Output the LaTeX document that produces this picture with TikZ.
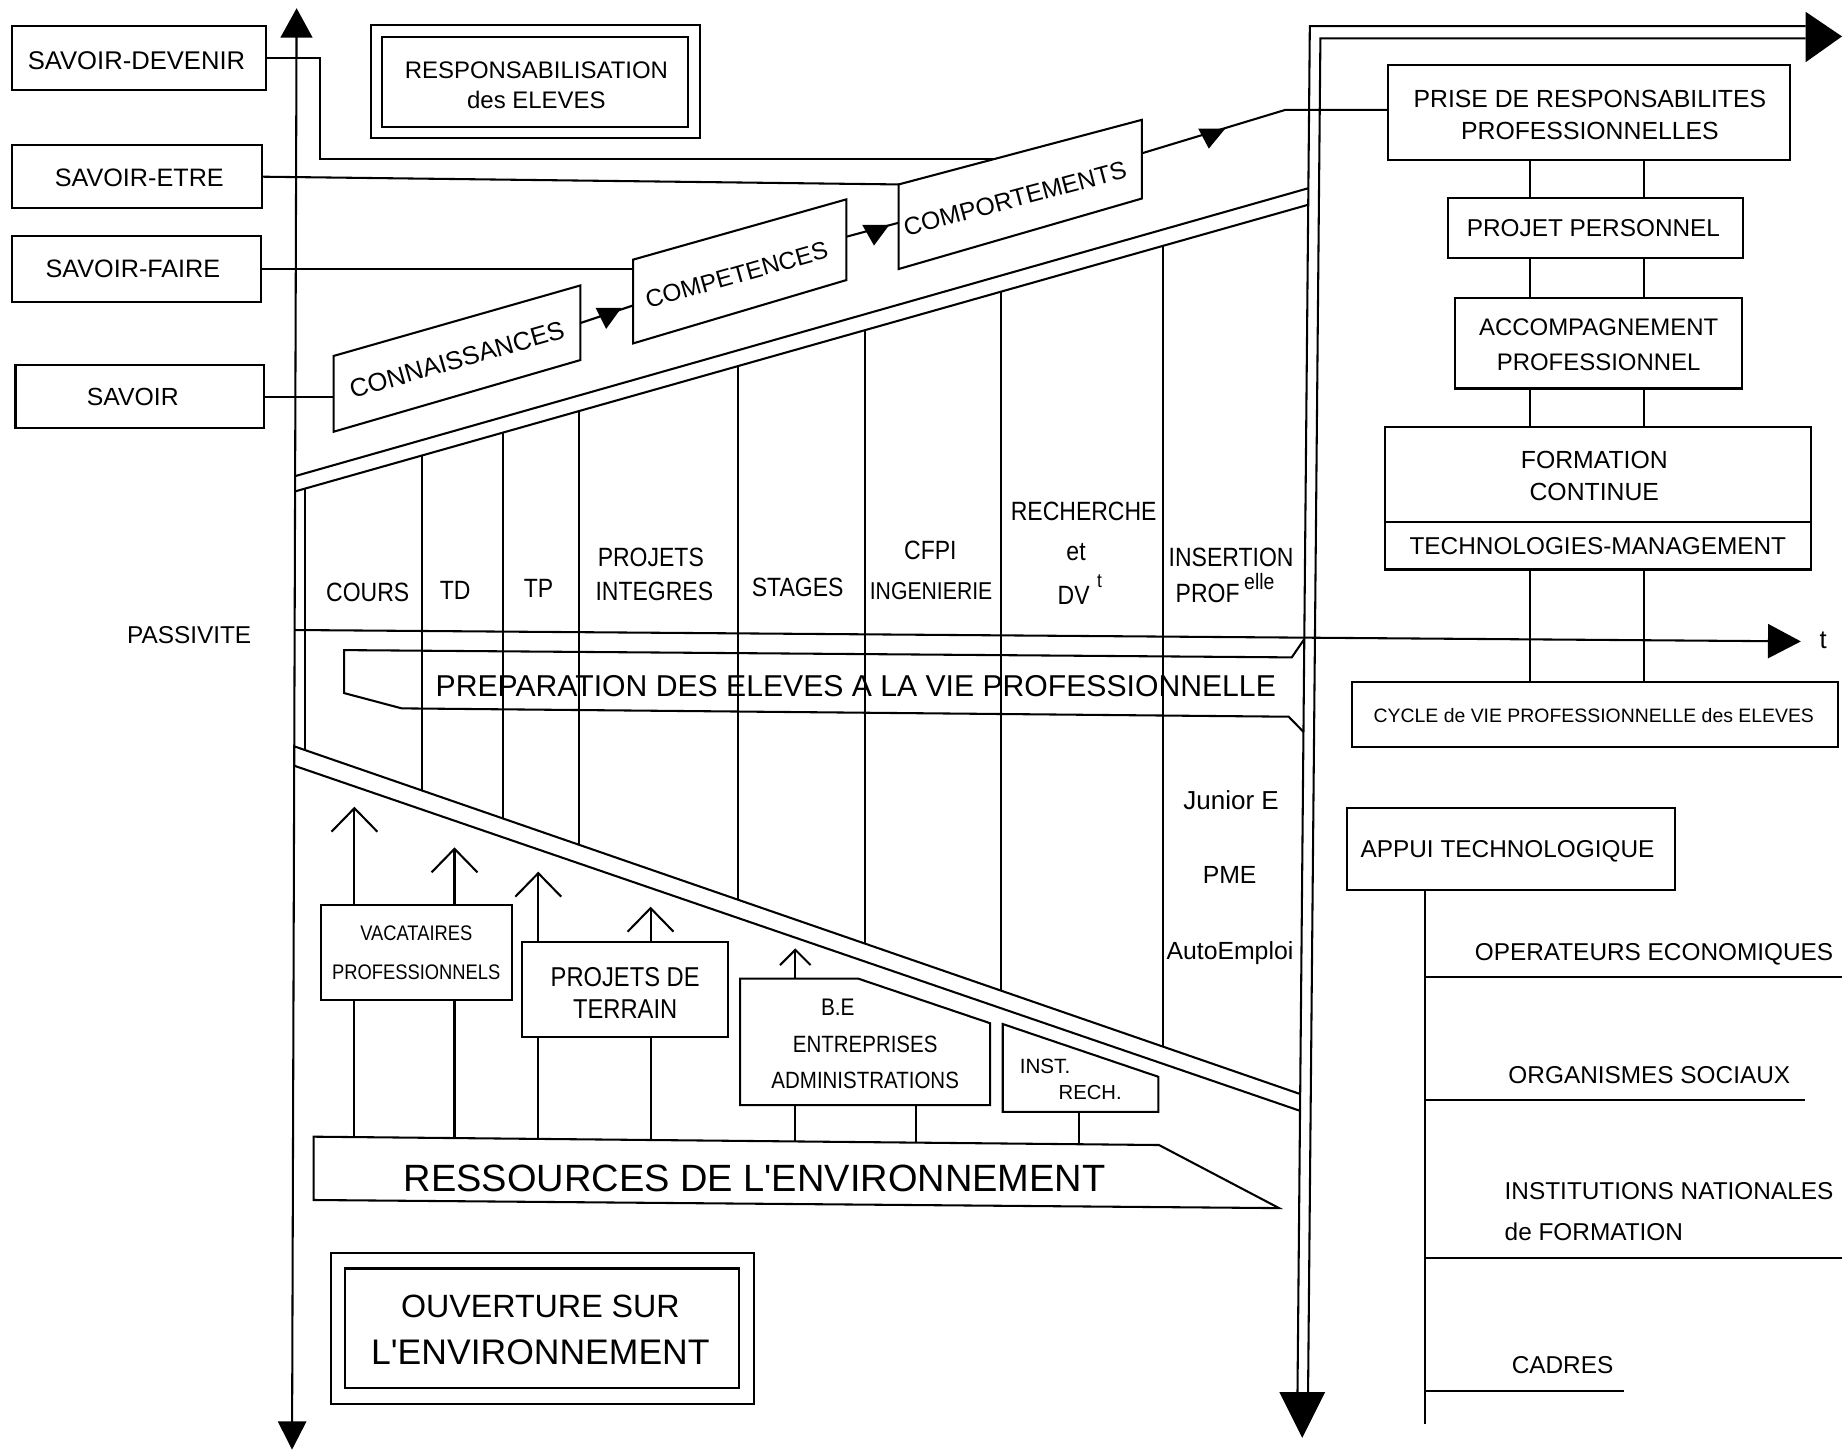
\documentclass[tikz,border=0pt]{standalone}
\usepackage{fontspec}
\setmainfont{Liberation Sans}[Ligatures=TeXOff]
\newfontfamily\narrowfont{Liberation Sans}[FakeStretch=0.87,Ligatures=TeXOff]
\usetikzlibrary{fit,arrows.meta,calc}
\newcommand\fsz[2]{\fontsize{#1}{#2}\selectfont}
\begin{document}
\begin{tikzpicture}[x=0.01cm,y=-0.01cm,line width=0.5pt,line join=miter,
  bx/.style={draw,inner sep=0pt,outer sep=0pt,fill=white},
  frame/.style={draw,inner sep=0pt,outer sep=0pt},
  txt/.style={inner sep=0pt,text depth=0pt,align=center},
  colt/.style={txt,font=\narrowfont\fsz{6.4}{7}},
  rtxt/.style={txt,font=\fsz{5.9}{7}},
  upbarb/.style={-{Straight Barb[length=2mm,width=3.9mm]}},
  upbarbs/.style={-{Straight Barb[length=1.3mm,width=2.6mm]}}]
\useasboundingbox (0,0) rectangle (1568,1236);

% ---------- slanted bands and columns ----------
\draw (251.2,405.3) -- (1113.8,160.2);
\draw (251.2,418.3) -- (1113.6,174.3);
\draw (251,635.5) -- (1106.8,931.3);
\draw (251,652) -- (1106.7,945.6);
\draw (260,415.8) -- (260,638.6);
\foreach \cx in {359,428,493,628,736,852,990}{
  \draw (\cx,{418.3-0.2829*(\cx-251.2)}) -- (\cx,{635.5+0.3458*(\cx-251)});
}

% ---------- preparation banner ----------
\draw (1110.3,544) -- (1099.6,559.6) -- (293,553.4) -- (293,590) -- (342,603) -- (1097,610.1) -- (1109.6,623);
\node[txt,font=\fsz{7.3}{8}] (prep) at (728.5,584) {PREPARATION DES ELEVES A LA VIE PROFESSIONNELLE};

% ---------- column labels ----------
\node[colt] (lcours) at (313,504) {COURS};
\node[colt] (ltd) at (387.5,503) {TD};
\node[colt] (ltp) at (458.5,501) {TP};
\node[colt] (lproj1) at (554,474.4) {PROJETS};
\node[colt] (lproj2) at (557,503) {INTEGRES};
\node[colt] (lstag) at (679,500) {STAGES};
\node[colt] (lcfpi) at (792,468) {CFPI};
\node[colt,font=\narrowfont\fsz{5.9}{7}] (ling) at (792.6,503) {INGENIERIE};
\node[colt] (lrech) at (922.5,435.6) {RECHERCHE};
\node[colt] (let) at (916,469.6) {et};
\node[colt] (ldv) at (914,506.5) {DV};
\node[colt,font=\narrowfont\fsz{4.8}{5}] (ldvt) at (936,495) {t};
\node[colt] (lins) at (1048,474) {INSERTION};
\node[colt] (lprof) at (1028,505) {PROF};
\node[colt,font=\narrowfont\fsz{5.4}{6}] (lelle) at (1072,495) {elle};
\node[txt,font=\fsz{6.3}{7}] (jun) at (1048,681) {Junior E};
\node[txt,font=\fsz{6}{7}] (pme) at (1046.7,744.9) {PME};
\node[txt,font=\fsz{6}{7}] (auto) at (1047,808.9) {AutoEmploi};

% ---------- passivite axis ----------
\coordinate (pasL) at (251,536.3);
\coordinate (pasR) at (1533,546);
\node[txt,font=\fsz{5.9}{7}] (pass) at (161,540.5) {PASSIVITE};
\node[txt,font=\fsz{6.2}{7}] (tlab) at (1552,545) {t};

% ---------- resources: up arrows ----------
\coordinate (rsmid) at (640,1000);
\coordinate (u1) at (301.7,686.7);
\coordinate (u2) at (386.9,721.3);
\coordinate (u3) at (458.2,742);
\coordinate (u4) at (553.8,771.8);
\coordinate (u5) at (677,807.3);
\coordinate (b2) at (779.4,905);
\coordinate (b3) at (918.5,930);
\draw[upbarb] (u1 |- rsmid) -- (u1);
\draw[upbarb] (u2 |- rsmid) -- (u2);
\draw[upbarb] (u3 |- rsmid) -- (u3);
\draw[upbarb] (u4 |- rsmid) -- (u4);
\draw[upbarbs] (u5 |- rsmid) -- (u5);
\draw (b2 |- rsmid) -- (b2);
\draw (b3 |- rsmid) -- (b3);

\node[bx,fit={(272.9,770.4) (435.8,851.3)}] (vac) {};
\node[txt,font=\narrowfont\fsz{5.1}{9.3}] (vacT) at (vac.center) {VACATAIRES\\PROFESSIONNELS};
\node[bx,fit={(444.4,801.6) (620,882.5)}] (pdt) {};
\node[txt,font=\narrowfont\fsz{6.6}{7.7}] (pdtT) at ($(pdt.center)+(0,3)$) {PROJETS DE\\TERRAIN};
\coordinate (beTL) at (630,833);
\coordinate (beTM) at (730.4,833);
\coordinate (beTR) at (842.8,871);
\coordinate (beBR) at (842.8,940.7);
\coordinate (beBL) at (630,940.7);
\filldraw[fill=white] (beTL) -- (beTM) -- (beTR) -- (beBR) -- (beBL) -- cycle;
\node[txt,font=\narrowfont\fsz{5.8}{7}] (be1) at (713.2,857) {B.E};
\node[txt,font=\narrowfont\fsz{5.7}{8.8}] (be2) at (736.5,904) {ENTREPRISES\\ADMINISTRATIONS};
\coordinate (inTL) at (853.6,871.7);
\coordinate (inTR) at (986,916.6);
\coordinate (inBR) at (986,946.4);
\coordinate (inBL) at (853.6,946.4);
\filldraw[fill=white] (inTL) -- (inTR) -- (inBR) -- (inBL) -- cycle;
\node[txt,font=\fsz{5}{6}] (in1) at (889.6,907.3) {INST.};
\node[txt,font=\fsz{4.9}{6}] (in2) at (928,930) {RECH.};

\coordinate (rsTL) at (267,967.6);
\coordinate (rsTR) at (986.6,974.7);
\coordinate (rsTip) at (1088.8,1028.4);
\coordinate (rsBL) at (267,1021.5);
\filldraw[fill=white] (rsTL) -- (rsTR) -- (rsTip) -- (rsBL) -- cycle;
\node[txt,font=\fsz{9.2}{10}] (res) at (642.4,1003) {RESSOURCES DE L'ENVIRONNEMENT};

% ---------- ouverture ----------
\node[frame,fit={(281.5,1066.4) (641.8,1195.2)}] (ouvo) {};
\node[frame,fit={(293.5,1079.8) (629.2,1181.9)}] (ouv) {};
\node[txt,font=\fsz{7.8}{11}] (ouv1) at (460,1111.8) {OUVERTURE SUR};
\node[txt,font=\fsz{8.6}{11}] (ouv2) at (460,1150.7) {L'ENVIRONNEMENT};

% ---------- main axes ----------
\coordinate (axT) at (252.5,7);
\coordinate (axB) at (248.6,1234);
\draw[{Triangle[length=2.5mm,width=2.7mm]}-{Triangle[length=2.4mm,width=2.4mm]}] (axT) -- (axB);
\draw[-{Triangle[length=2.8mm,width=2.9mm]}] (pasL) -- (pasR);

\coordinate (dbO) at (1104.5,1185);
\coordinate (dbI) at (1113.5,1185);
\coordinate (hzO) at (1537,22.2);
\coordinate (hzI) at (1537,32.6);
\draw (dbO) -- (1115,22.2) -- (hzO);
\draw (dbI) -- (1124,32.6) -- (hzI);
\fill (1537,10) -- (1568,31) -- (1537,53) -- cycle;
\fill (1089,1185) -- (1128,1185) -- (1108.5,1224) -- cycle;

% ---------- left boxes ----------
\node[bx,fit={(10.3,22.1) (226.1,76.6)}] (sdev) {};
\node[txt,font=\fsz{6.2}{7}] (sdevT) at ($(sdev.center)+(-2,2)$) {SAVOIR-DEVENIR};
\node[bx,fit={(10.3,123.4) (222.8,177.4)}] (setre) {};
\node[txt,font=\fsz{6.1}{7}] (setreT) at ($(setre.center)+(2,1)$) {SAVOIR-ETRE};
\node[bx,fit={(10.3,200.6) (222,257.4)}] (sfaire) {};
\node[txt,font=\fsz{6.1}{7}] (sfaireT) at ($(sfaire.center)+(-3,0)$) {SAVOIR-FAIRE};
\node[bx,fit={(13.2,310.7) (224.9,364.6)}] (savoir) {};
\node[txt,font=\fsz{6}{7}] (savoirT) at ($(savoir.center)+(-6,0)$) {SAVOIR};

\node[frame,fit={(315.7,21.3) (595.5,117.2)}] (respo) {};
\node[frame,fit={(325.2,31.8) (586,107.8)}] (resp) {};
\node[txt,font=\fsz{5.8}{7.3}] (respT) at ($(resp.center)+(1,3)$) {RESPONSABILISATION\\des ELEVES};

% ---------- parallelograms ----------
\coordinate (cnTL) at (284,303);
\coordinate (cnTR) at (494,243);
\coordinate (cnBR) at (494,306.5);
\coordinate (cnBL) at (284,367.5);
\draw (cnTL) -- (cnTR) -- (cnBR) -- (cnBL) -- cycle;
\node[txt,rotate=15.95,font=\fsz{6.2}{7}] (conn) at (389,306) {CONNAISSANCES};

\coordinate (cpTL) at (539,221);
\coordinate (cpTR) at (720.5,169.7);
\coordinate (cpBR) at (720.5,238.4);
\coordinate (cpBL) at (539,292.3);
\draw (cpTL) -- (cpTR) -- (cpBR) -- (cpBL) -- cycle;
\node[txt,rotate=15.78,font=\fsz{5.9}{7}] (comp) at (627,234) {COMPETENCES};

\coordinate (cmTL) at (765,157);
\coordinate (cmTR) at (972,102);
\coordinate (cmBR) at (972,169);
\coordinate (cmBL) at (765,229);
\draw (cmTL) -- (cmTR) -- (cmBR) -- (cmBL) -- cycle;
\node[txt,rotate=14.88,font=\fsz{6}{7}] (compo) at (864,169) {COMPORTEMENTS};

% ---------- right boxes ----------
\node[bx,fit={(1181.2,55.4) (1523.6,136.2)}] (prise) {};
\node[txt,font=\fsz{6}{7.6}] (priseT) at ($(prise.center)+(1,2)$) {PRISE DE RESPONSABILITES\\PROFESSIONNELLES};
\node[bx,fit={(1233,168.8) (1483.8,219.9)}] (projet) {};
\node[txt,font=\fsz{5.9}{7}] (projetT) at ($(projet.center)+(-2,0)$) {PROJET PERSONNEL};
\node[bx,fit={(1238.5,254) (1483.2,330.7)}] (accomp) {};
\node[txt,font=\fsz{5.8}{8.5}] (accompT) at ($(accomp.center)+(0,1)$) {ACCOMPAGNEMENT\\PROFESSIONNEL};
\node[bx,fit={(1178.6,363.3) (1541.7,444.7)}] (fmA) {};
\node[txt,font=\fsz{6}{7.6}] (fmAT) at ($(fmA.center)+(-3,1)$) {FORMATION\\CONTINUE};
\node[bx,fit={(1178.6,444.7) (1541.7,484.8)}] (fmB) {};
\node[txt,font=\fsz{5.9}{7}] (fmBT) at (fmB.center) {TECHNOLOGIES-MANAGEMENT};
\node[bx,fit={(1151,580.2) (1564.5,635.6)}] (cycle) {};
\node[txt,font=\fsz{4.7}{6}] (cycleT) at ($(cycle.center)+(-1,1)$) {CYCLE de VIE PROFESSIONNELLE des ELEVES};
\node[bx,fit={(1146.6,688) (1426,758)}] (appui) {};
\node[txt,font=\fsz{5.9}{7}] (appuiT) at ($(appui.center)+(-3,0)$) {APPUI TECHNOLOGIQUE};

\coordinate (v1) at (1302.5,0);
\coordinate (v2) at (1399.8,0);
\foreach \v in {v1,v2}{
  \draw (prise.south -| \v) -- (projet.north -| \v);
  \draw (projet.south -| \v) -- (accomp.north -| \v);
  \draw (accomp.south -| \v) -- (fmA.north -| \v);
  \draw (fmB.south -| \v) -- (cycle.north -| \v);
}

\coordinate (av) at (1213,1212);
\coordinate (h1) at (1568,831.4);
\coordinate (h2) at (1536.6,936.4);
\coordinate (h3) at (1568,1070.6);
\coordinate (h4) at (1382.5,1184);
\draw (appui.south -| av) -- (av);
\draw (av |- h1) -- (h1);
\draw (av |- h2) -- (h2);
\draw (av |- h3) -- (h3);
\draw (av |- h4) -- (h4);
\node[rtxt] (oper) at (1408,810.5) {OPERATEURS ECONOMIQUES};
\node[rtxt] (orga) at (1404,914.7) {ORGANISMES SOCIAUX};
\node[rtxt,anchor=west] (inst1) at (1280,1014) {INSTITUTIONS NATIONALES};
\node[rtxt,anchor=west] (inst2) at (1280,1048.4) {de FORMATION};
\node[rtxt,anchor=west] (cadr) at (1286,1162) {CADRES};

% ---------- connectors ----------
\coordinate (dvend) at (848,135);
\draw (sdev.east) -- ++(46.2,0) |- (dvend);
\draw (setre.east) -- (cmTL);
\draw (sfaire.east) -- (sfaire.east -| cpTL);
\draw (savoir.east) -- (savoir.east -| cnTL);

\coordinate (a1s) at (494,275);
\coordinate (a1e) at (539,260);
\draw (a1s) -- (a1e);
\fill (507,262) -- (529,262) -- (516,280) -- cycle;
\coordinate (a2s) at (720.5,201.5);
\coordinate (a2e) at (765,189.6);
\draw (a2s) -- (a2e);
\fill (734,191.5) -- (757,191.5) -- (744,209) -- cycle;
\coordinate (a3s) at (972,130.5);
\coordinate (a3m) at (1093.9,93.6);
\draw (a3s) -- (a3m) -- (a3m -| prise.west);
\fill (1020,109.5) -- (1043,109.5) -- (1029,126.5) -- cycle;
\end{tikzpicture}
\end{document}
